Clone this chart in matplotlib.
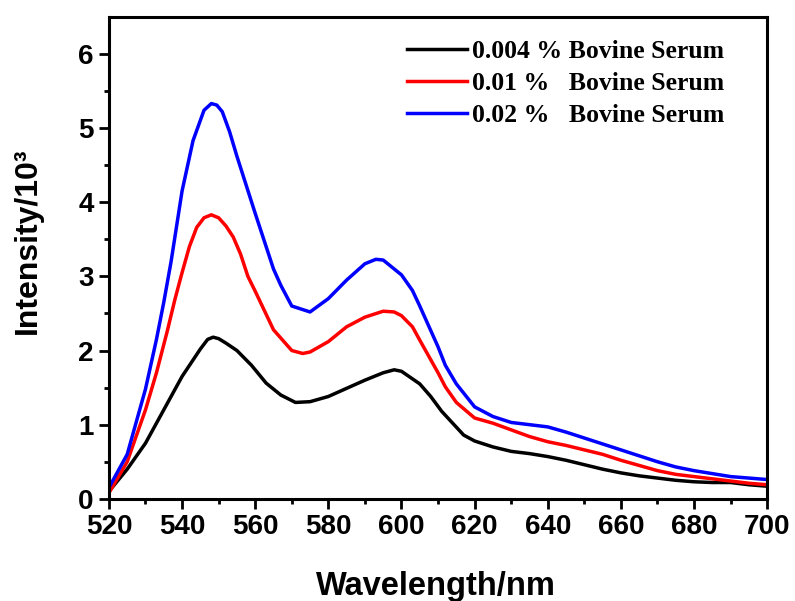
import numpy as np
import matplotlib
matplotlib.use("Agg")
import matplotlib.pyplot as plt

# wavelength (nm) / intensity (x10^3)
wl_black = [520, 525, 530, 535, 540, 545, 547, 548.5, 550, 552, 555, 559, 563, 567, 571, 575,
            580, 585, 590, 595, 598, 600, 605, 608, 611, 614, 617, 620, 625, 630, 635, 640,
            645, 650, 655, 660, 665, 670, 675, 680, 685, 690, 695, 700]
int_black = [0.10, 0.40, 0.75, 1.20, 1.65, 2.02, 2.15, 2.18, 2.16, 2.10, 2.00, 1.80, 1.56, 1.40,
             1.30, 1.31, 1.38, 1.49, 1.60, 1.70, 1.74, 1.72, 1.55, 1.38, 1.18, 1.02, 0.86, 0.78,
             0.70, 0.64, 0.61, 0.57, 0.52, 0.46, 0.40, 0.35, 0.31, 0.28, 0.25, 0.23, 0.22, 0.22,
             0.19, 0.17]

wl_red = [520, 525, 530, 533, 536, 538, 540, 542, 544, 546, 548, 550, 552, 554, 556, 558, 560,
          565, 570, 573, 575, 580, 585, 590, 595, 598, 600, 603, 605, 610, 612, 615, 620, 625,
          630, 635, 640, 645, 650, 655, 660, 665, 670, 675, 680, 685, 690, 695, 700]
int_red = [0.08, 0.50, 1.20, 1.70, 2.27, 2.68, 3.05, 3.40, 3.66, 3.79, 3.83, 3.79, 3.68, 3.53,
           3.30, 3.00, 2.80, 2.28, 2.00, 1.96, 1.98, 2.12, 2.32, 2.45, 2.53, 2.52, 2.47, 2.32,
           2.14, 1.70, 1.51, 1.30, 1.09, 1.02, 0.93, 0.84, 0.77, 0.72, 0.66, 0.60, 0.52, 0.45,
           0.38, 0.33, 0.30, 0.27, 0.24, 0.21, 0.19]

wl_blue = [520, 525, 530, 533, 535, 537, 540, 543, 546, 548, 549.5, 551, 553, 555, 560, 565,
           567, 570, 575, 580, 585, 590, 593, 595, 600, 603, 605, 610, 612, 615, 620, 625, 630,
           635, 640, 645, 650, 655, 660, 665, 670, 675, 680, 685, 690, 695, 700]
int_blue = [0.15, 0.60, 1.48, 2.15, 2.65, 3.20, 4.15, 4.83, 5.24, 5.33, 5.31, 5.22, 4.95, 4.62,
            3.85, 3.10, 2.88, 2.60, 2.52, 2.70, 2.95, 3.17, 3.23, 3.22, 3.02, 2.81, 2.60, 2.05,
            1.80, 1.55, 1.24, 1.11, 1.03, 1.00, 0.97, 0.90, 0.82, 0.74, 0.66, 0.58, 0.50, 0.43,
            0.38, 0.34, 0.30, 0.28, 0.26]

labels = ["0.004 % Bovine Serum", "0.01 %   Bovine Serum", "0.02 %   Bovine Serum"]
colors = ["black", "red", "blue"]

plt.rcParams['font.family'] = ['Liberation Sans', 'DejaVu Sans']

fig = plt.figure(figsize=(7.95, 6.01), dpi=100)
ax = fig.add_axes([0.137, 0.170, 0.828, 0.802])

series = [(wl_black, int_black), (wl_red, int_red), (wl_blue, int_blue)]
for (x, y), c, lab in zip(series, colors, labels):
    ax.plot(x, y, color=c, lw=2.5, label=lab, solid_joinstyle='round')

ax.set_xlim(520, 700)
ax.set_ylim(0, 6.5)
ax.set_xticks(np.arange(520, 701, 20))
ax.set_xticks(np.arange(530, 700, 20), minor=True)
ax.set_yticks(np.arange(0, 7, 1))
ax.set_yticks(np.arange(0.5, 6.5, 1), minor=True)

for s in ax.spines.values():
    s.set_linewidth(2.2)
ax.tick_params(which='major', direction='out', length=7, width=2, labelsize=20, pad=4)
ax.tick_params(which='minor', direction='out', length=3.5, width=2)
for lbl in ax.get_xticklabels() + ax.get_yticklabels():
    lbl.set_fontweight('bold')

ax.set_xlabel("Wavelength/nm", fontsize=23.5, fontweight='bold')
ax.set_ylabel("Intensity/10³", fontsize=23, fontweight='bold')
ax.xaxis.set_label_coords(0.497, -0.150)
ax.yaxis.set_label_coords(-0.10, 0.535)

ax.legend(loc='upper left', bbox_to_anchor=(0.453, 0.952), frameon=False,
          prop={'family': 'Liberation Serif', 'weight': 'bold', 'size': 18.5},
          handlelength=2.33, handletextpad=0.2, labelspacing=0.345,
          borderpad=0, borderaxespad=0)

fig.savefig("out.png", dpi=100)
